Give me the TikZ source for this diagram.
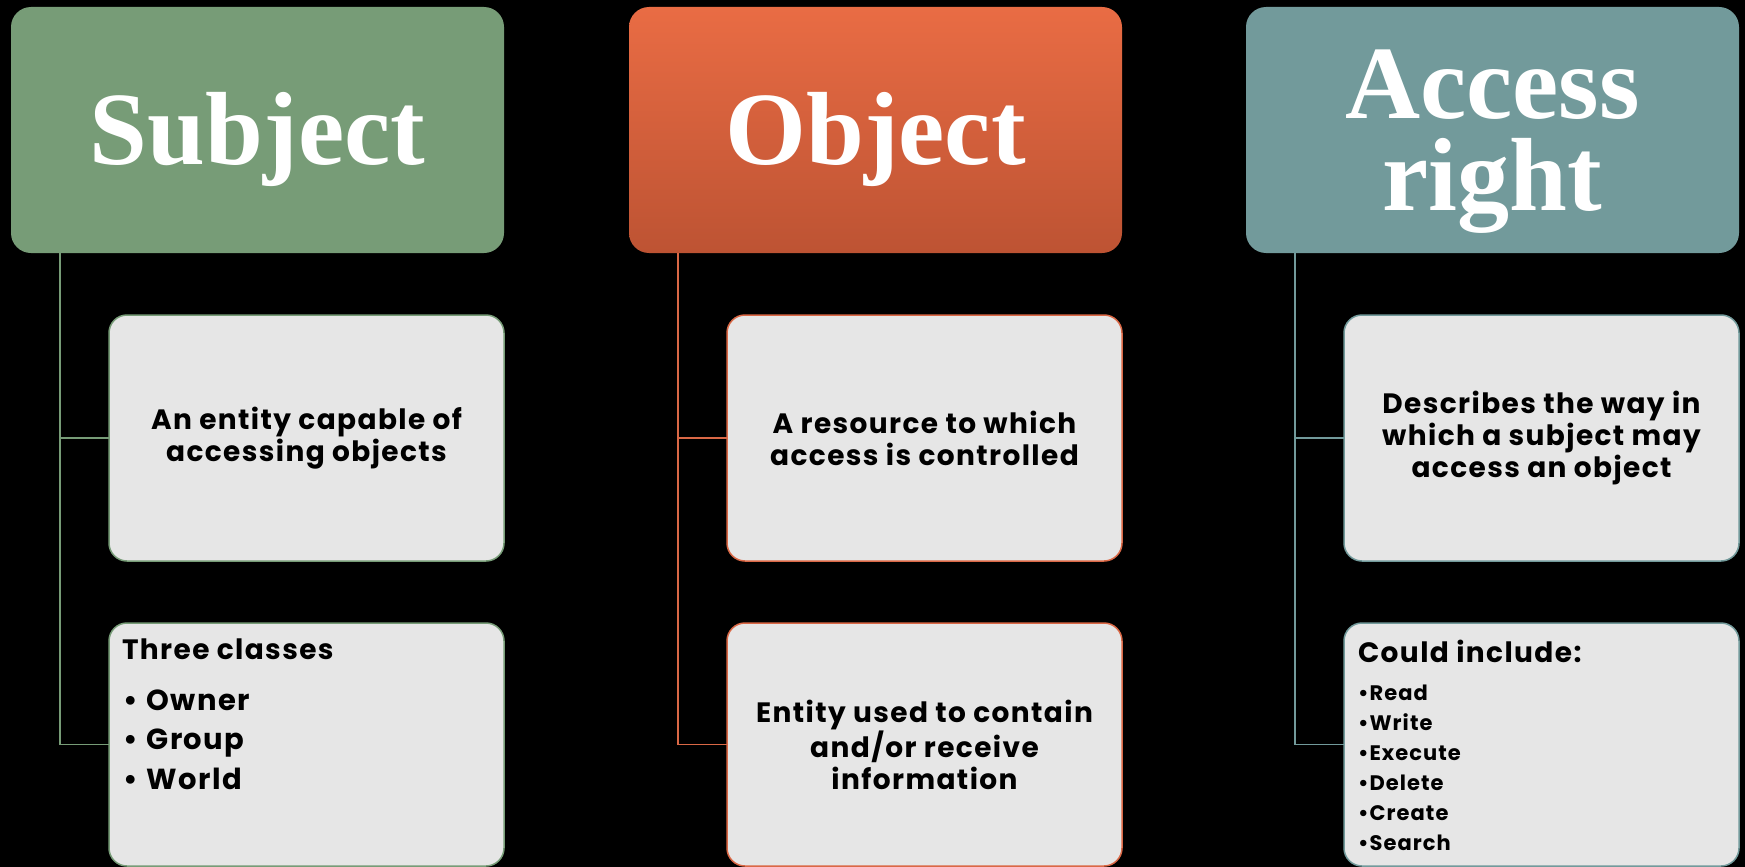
\documentclass[tikz,border=0pt]{standalone}
\usepackage{fontspec}
\usetikzlibrary{positioning}
\newfontfamily\headfont{Liberation Serif}
\newfontfamily\bodyfont{Poppins}[LetterSpace=5]
\definecolor{subjgreen}{RGB}{119,156,119}
\definecolor{objtop}{RGB}{233,108,68}
\definecolor{objbottom}{RGB}{189,83,51}
\definecolor{objline}{RGB}{218,104,70}
\definecolor{accteal}{RGB}{114,154,155}
\definecolor{childgray}{RGB}{230,230,230}

\begin{document}
\begin{tikzpicture}[x=1pt, y=-1pt,
		header/.style={rectangle, rounded corners=20pt, minimum width=493pt, minimum height=246pt, inner sep=0pt, outer sep=0pt, text=white, align=center, font=\headfont\bfseries\fontsize{104}{92}\selectfont},
		child/.style={rectangle, rounded corners=18pt, draw=#1, line width=1.5pt, fill=childgray, minimum width=395pt, minimum height=246pt, inner sep=0pt, outer sep=0pt, align=center, font=\bodyfont\bfseries\fontsize{28}{32}\selectfont}
	]
	\path[use as bounding box, fill=black] (0,0) rectangle (1745,867);
	\node[header, fill=subjgreen, text height=69pt, text depth=0pt] (subj) at (257.5,130) {Subject};
	\node[header, top color=objtop, bottom color=objbottom, text height=69pt, text depth=0pt] (obj) [right=125pt of subj] {Object};
	\node[header, fill=accteal, text depth=0pt] (acc) [right=124pt of obj] {Access\\right};
	\node[child=subjgreen] (subjA) [below left=62pt and 0pt of subj.south east] {An entity capable of\\accessing objects};
	\node[child=subjgreen, minimum height=243pt] (subjB) [below=62pt of subjA] {\parbox[c][215pt][t]{369pt}{\vspace{2pt}Three classes\par\vspace{11pt}\fontsize{29}{39.5}\selectfont\hspace*{1pt}\textbullet\hspace{9pt}Owner\\\hspace*{1pt}\textbullet\hspace{9pt}Group\\\hspace*{1pt}\textbullet\hspace{9pt}World}};
	\node[child=objline] (objA) [below left=62pt and 0pt of obj.south east] {A resource to which\\access is controlled};
	\node[child=objline, minimum height=243pt] (objB) [below=62pt of objA] {Entity used to contain\\and/or receive\\information};
	\node[child=accteal] (accA) [below left=62pt and 0pt of acc.south east] {Describes the way in\\which a subject may\\access an object};
	\node[child=accteal, minimum height=243pt] (accB) [below=62pt of accA] {\parbox[c][215pt][t]{367pt}{\vspace{3pt}Could include:\par\vspace{8pt}\fontsize{21}{30}\selectfont\textbullet Read\\\textbullet Write\\\textbullet Execute\\\textbullet Delete\\\textbullet Create\\\textbullet Search}};
	\begin{scope}[line width=1.5pt]
	\draw[subjgreen] ([xshift=49pt]subj.south west) |- (subjA.west);
	\draw[subjgreen] ([xshift=49pt]subj.south west) |- (subjB.west);
	\draw[objline] ([xshift=49pt]obj.south west) |- (objA.west);
	\draw[objline] ([xshift=49pt]obj.south west) |- (objB.west);
	\draw[accteal] ([xshift=49pt]acc.south west) |- (accA.west);
	\draw[accteal] ([xshift=49pt]acc.south west) |- (accB.west);
	\end{scope}
\end{tikzpicture}
\end{document}
